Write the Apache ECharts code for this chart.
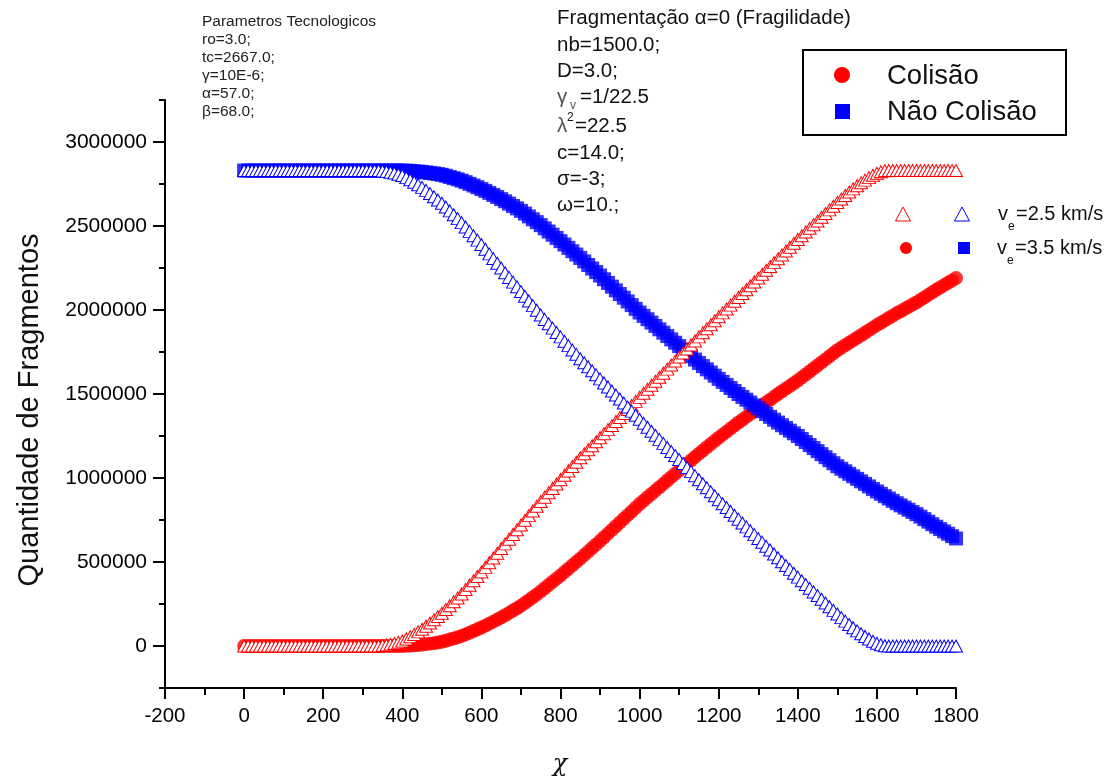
<!DOCTYPE html>
<html>
<head>
<meta charset="utf-8">
<script src="https://cdn.jsdelivr.net/npm/echarts@6/dist/echarts.min.js"></script>
<style>html,body{margin:0;padding:0;background:#fff}#c{width:1117px;height:782px}</style>
</head>
<body>
<div id="c"></div>
<script>
// sample positions (chi), step 10 from 0 to 1800
const chiStart = 0, chiStep = 10, chiCount = 181;
const chi = Array.from({length: chiCount}, (_, i) => chiStart + i * chiStep);

// ve = 2.5 km/s, Colisão (red open triangles)
const colisao25 = [
0,0,0,0,0,0,0,0,0,0,
0,0,0,0,0,0,0,0,0,0,
0,0,0,0,0,0,0,0,0,0,
0,0,0,0,0,3000,6000,10000,15000,22000,
30000,42000,55000,69000,84000,100000,118000,137000,156000,175000,
195000,217000,240000,263000,286000,310000,336000,362000,388000,414000,
440000,468000,496000,524000,552000,580000,608000,636000,664000,692000,
720000,748000,776000,804000,832000,860000,886000,912000,938000,964000,
990000,1016000,1042000,1068000,1094000,1120000,1144000,1168000,1192000,1216000,
1240000,1264000,1288000,1312000,1336000,1360000,1384000,1408000,1432000,1456000,
1480000,1504000,1528000,1552000,1576000,1600000,1624000,1648000,1672000,1696000,
1720000,1744000,1768000,1792000,1816000,1840000,1864000,1888000,1912000,1936000,
1960000,1983000,2006000,2029000,2052000,2075000,2098000,2121000,2144000,2167000,
2190000,2213000,2236000,2259000,2282000,2305000,2328000,2351000,2374000,2397000,
2420000,2442000,2464000,2486000,2508000,2530000,2552000,2574000,2596000,2618000,
2640000,2661000,2682000,2702000,2721000,2740000,2757000,2773000,2788000,2802000,
2814000,2823000,2829000,2830000,2830000,2830000,2830000,2830000,2830000,2830000,
2830000,2830000,2830000,2830000,2830000,2830000,2830000,2830000,2830000,2830000,
2830000
];

// ve = 2.5 km/s, Não Colisão (blue open triangles)
const naoColisao25 = [
2830000,2830000,2830000,2830000,2830000,2830000,2830000,2830000,2830000,2830000,
2830000,2830000,2830000,2830000,2830000,2830000,2830000,2830000,2830000,2830000,
2830000,2830000,2830000,2830000,2830000,2830000,2830000,2830000,2830000,2830000,
2830000,2830000,2830000,2830000,2830000,2827000,2824000,2820000,2815000,2808000,
2800000,2788000,2775000,2761000,2746000,2730000,2712000,2693000,2674000,2655000,
2635000,2613000,2590000,2567000,2544000,2520000,2494000,2468000,2442000,2416000,
2390000,2362000,2334000,2306000,2278000,2250000,2222000,2194000,2166000,2138000,
2110000,2082000,2054000,2026000,1998000,1970000,1944000,1918000,1892000,1866000,
1840000,1814000,1788000,1762000,1736000,1710000,1686000,1662000,1638000,1614000,
1590000,1566000,1542000,1518000,1494000,1470000,1446000,1422000,1398000,1374000,
1350000,1326000,1302000,1278000,1254000,1230000,1206000,1182000,1158000,1134000,
1110000,1086000,1062000,1038000,1014000,990000,966000,942000,918000,894000,
870000,847000,824000,801000,778000,755000,732000,709000,686000,663000,
640000,617000,594000,571000,548000,525000,502000,479000,456000,433000,
410000,388000,366000,344000,322000,300000,278000,256000,234000,212000,
190000,169000,148000,128000,109000,90000,73000,57000,42000,28000,
16000,7000,1000,0,0,0,0,0,0,0,
0,0,0,0,0,0,0,0,0,0,
0
];

// ve = 3.5 km/s, Colisão (red filled circles)
const colisao35 = [
0,0,0,0,0,0,0,0,0,0,
0,0,0,0,0,0,0,0,0,0,
0,0,0,0,0,0,0,0,0,0,
0,0,0,0,0,0,0,0,0,0,
0,1000,2000,4000,6000,8000,11000,14000,17000,21000,
25000,31000,38000,45000,52000,60000,69000,79000,89000,99000,
110000,121000,133000,145000,157000,170000,183000,197000,211000,225000,
240000,256000,273000,290000,307000,325000,344000,363000,382000,401000,
420000,440000,460000,480000,500000,520000,541000,562000,583000,604000,
625000,647000,669000,691000,713000,735000,757000,779000,801000,823000,
845000,865000,885000,905000,925000,945000,965000,985000,1005000,1025000,
1045000,1065000,1085000,1105000,1125000,1145000,1164000,1183000,1202000,1221000,
1240000,1258000,1276000,1294000,1312000,1330000,1347000,1364000,1381000,1398000,
1415000,1432000,1449000,1466000,1483000,1500000,1516000,1532000,1548000,1564000,
1580000,1598000,1616000,1634000,1652000,1670000,1688000,1706000,1724000,1742000,
1760000,1775000,1790000,1805000,1820000,1835000,1850000,1865000,1880000,1895000,
1910000,1924000,1938000,1952000,1966000,1980000,1993000,2006000,2019000,2032000,
2045000,2060000,2075000,2090000,2105000,2120000,2134000,2148000,2162000,2176000,
2190000
];

// ve = 3.5 km/s, Não Colisão (blue filled squares)
const naoColisao35 = [
2830000,2830000,2830000,2830000,2830000,2830000,2830000,2830000,2830000,2830000,
2830000,2830000,2830000,2830000,2830000,2830000,2830000,2830000,2830000,2830000,
2830000,2830000,2830000,2830000,2830000,2830000,2830000,2830000,2830000,2830000,
2830000,2830000,2830000,2830000,2830000,2830000,2830000,2830000,2830000,2830000,
2830000,2829000,2828000,2826000,2824000,2822000,2819000,2816000,2813000,2809000,
2805000,2799000,2792000,2785000,2778000,2770000,2761000,2751000,2741000,2731000,
2720000,2709000,2697000,2685000,2673000,2660000,2647000,2633000,2619000,2605000,
2590000,2574000,2557000,2540000,2523000,2505000,2486000,2467000,2448000,2429000,
2410000,2390000,2370000,2350000,2330000,2310000,2289000,2268000,2247000,2226000,
2205000,2183000,2161000,2139000,2117000,2095000,2073000,2051000,2029000,2007000,
1985000,1965000,1945000,1925000,1905000,1885000,1865000,1845000,1825000,1805000,
1785000,1765000,1745000,1725000,1705000,1685000,1666000,1647000,1628000,1609000,
1590000,1572000,1554000,1536000,1518000,1500000,1483000,1466000,1449000,1432000,
1415000,1398000,1381000,1364000,1347000,1330000,1314000,1298000,1282000,1266000,
1250000,1232000,1214000,1196000,1178000,1160000,1142000,1124000,1106000,1088000,
1070000,1055000,1040000,1025000,1010000,995000,980000,965000,950000,935000,
920000,906000,892000,878000,864000,850000,837000,824000,811000,798000,
785000,770000,755000,740000,725000,710000,696000,682000,668000,654000,
640000
];

// axis ticks
const xTicks = [-200, 0, 200, 400, 600, 800, 1000, 1200, 1400, 1600, 1800];
const yLabelValues = [0, 500000, 1000000, 1500000, 2000000, 2500000, 3000000];
const yMinorValues = [-250000, 250000, 750000, 1250000, 1750000, 2250000, 2750000, 3250000];

// text
const paramLines = ['Parametros Tecnologicos', 'ro=3.0;', 'tc=2667.0;', 'γ=10E-6;', 'α=57.0;', 'β=68.0;'];
const fragTitle = 'Fragmentação α=0 (Fragilidade)';

const pair = (ys) => chi.map((x, i) => [x, ys[i]]);

const chart = echarts.init(document.getElementById('c'), null, {renderer: 'canvas'});
const FONT = '"Liberation Sans", Arial, sans-serif';
const RED = '#ff0000', BLUE = '#0000ff';

function txt(x, y, text, size, opts) {
  return Object.assign({
    type: 'text', x: x, y: y, silent: true,
    style: Object.assign({text: text, font: size + 'px ' + FONT, fill: '#111', textVerticalAlign: 'middle', textAlign: 'left'}, (opts && opts.style) || {})
  }, opts && opts.el || {});
}

const midX = 557;
const MF = 20.5;
const graphics = [
  // top-left parameters
  {type: 'text', x: 202, y: 13, silent: true, style: {text: paramLines.join('\n'), font: '15.5px ' + FONT, fill: '#222', lineHeight: 18}},
  // middle block
  txt(midX, 18, fragTitle, MF),
  txt(midX, 45, 'nb=1500.0;', MF),
  txt(midX, 71, 'D=3.0;', MF),
  txt(midX, 97, 'γ', MF, {style: {fill: '#555'}}),
  txt(570, 106, 'v', 12, {style: {fill: '#555'}}),
  txt(580, 97, '=1/22.5', MF),
  txt(midX, 126, 'λ', MF, {style: {fill: '#555'}}),
  txt(567, 118, '2', 12),
  txt(575, 126, '=22.5', MF),
  txt(midX, 153, 'c=14.0;', MF),
  txt(midX, 179, 'σ=-3;', MF),
  txt(midX, 205, 'ω=10.;', MF),
  // boxed legend
  {type: 'rect', silent: true, shape: {x: 803, y: 50, width: 263, height: 85}, style: {fill: '#fff', stroke: '#000', lineWidth: 2}},
  {type: 'circle', silent: true, shape: {cx: 842, cy: 75, r: 8}, style: {fill: RED}},
  {type: 'rect', silent: true, shape: {x: 835, y: 104, width: 15, height: 15}, style: {fill: BLUE}},
  txt(887, 76, 'Colisão', 27.5),
  txt(887, 112, 'Não Colisão', 27.5),
  // ve legend
  {type: 'polygon', silent: true, shape: {points: [[903, 207], [895.5, 221], [910.5, 221]]}, style: {fill: '#fff', stroke: RED, lineWidth: 1}},
  {type: 'polygon', silent: true, shape: {points: [[962, 207], [954.5, 221], [969.5, 221]]}, style: {fill: '#fff', stroke: BLUE, lineWidth: 1}},
  {type: 'circle', silent: true, shape: {cx: 906, cy: 248, r: 6}, style: {fill: RED}},
  {type: 'rect', silent: true, shape: {x: 958, y: 242, width: 12, height: 12}, style: {fill: BLUE}},
  txt(998, 214, 'v', 20),
  txt(1008, 227, 'e', 12),
  txt(1016, 214, '=2.5 km/s', 20),
  txt(997, 248, 'v', 20),
  txt(1007, 261, 'e', 12),
  txt(1015, 248, '=3.5 km/s', 20),
  // axis titles
  {type: 'text', x: 30, y: 410, rotation: Math.PI / 2, silent: true,
   style: {text: 'Quantidade de Fragmentos', font: '29px ' + FONT, fill: '#111', textAlign: 'center', textVerticalAlign: 'middle'}},
  {type: 'text', x: 560, y: 765, silent: true,
   style: {text: 'χ', font: 'italic 24px "DejaVu Serif", serif', fill: '#111', textAlign: 'center', textVerticalAlign: 'middle'}}
];

const option = {
  animation: false,
  backgroundColor: '#fff',
  grid: {left: 165, right: 161, top: 100, bottom: 94, containLabel: false},
  xAxis: {
    type: 'value', min: xTicks[0], max: xTicks[xTicks.length - 1], interval: 200,
    axisLine: {onZero: false, lineStyle: {color: '#000', width: 2}},
    axisTick: {show: true, length: 11, lineStyle: {color: '#000', width: 2}},
    minorTick: {show: true, splitNumber: 2, length: 7, lineStyle: {color: '#000', width: 2}},
    splitLine: {show: false},
    axisLabel: {color: '#000', fontSize: 20.5, fontFamily: FONT, margin: 18, formatter: (v) => String(v)}
  },
  yAxis: [{
    type: 'value', min: -250000, max: 3250000,
    axisLine: {show: true, onZero: false, lineStyle: {color: '#000', width: 2}},
    axisTick: {show: true, length: 12, customValues: yLabelValues, lineStyle: {color: '#000', width: 2}},
    splitLine: {show: false},
    axisLabel: {color: '#000', fontSize: 21, fontFamily: FONT, margin: 18, customValues: yLabelValues, formatter: (v) => String(v)}
  }, {
    type: 'value', min: -250000, max: 3250000, position: 'left',
    axisLine: {show: false, onZero: false},
    axisTick: {show: true, length: 6, customValues: yMinorValues, lineStyle: {color: '#000', width: 2}},
    splitLine: {show: false},
    axisLabel: {show: false}
  }],
  series: [
    {name: 'Colisão 3.5', type: 'scatter', data: pair(colisao35), symbol: 'circle', symbolSize: 14,
     itemStyle: {color: RED}, z: 2},
    {name: 'Não Colisão 3.5', type: 'scatter', data: pair(naoColisao35), symbol: 'rect', symbolSize: 14,
     itemStyle: {color: BLUE}, z: 2},
    {name: 'Colisão 2.5', type: 'scatter', data: pair(colisao25), symbol: 'triangle', symbolSize: [13, 12],
     itemStyle: {color: '#fff', borderColor: RED, borderWidth: 1, opacity: 1}, z: 3},
    {name: 'Não Colisão 2.5', type: 'scatter', data: pair(naoColisao25), symbol: 'triangle', symbolSize: [13, 12],
     itemStyle: {color: '#fff', borderColor: BLUE, borderWidth: 1, opacity: 1}, z: 3}
  ],
  graphic: graphics
};
chart.setOption(option);
</script>
</body>
</html>
